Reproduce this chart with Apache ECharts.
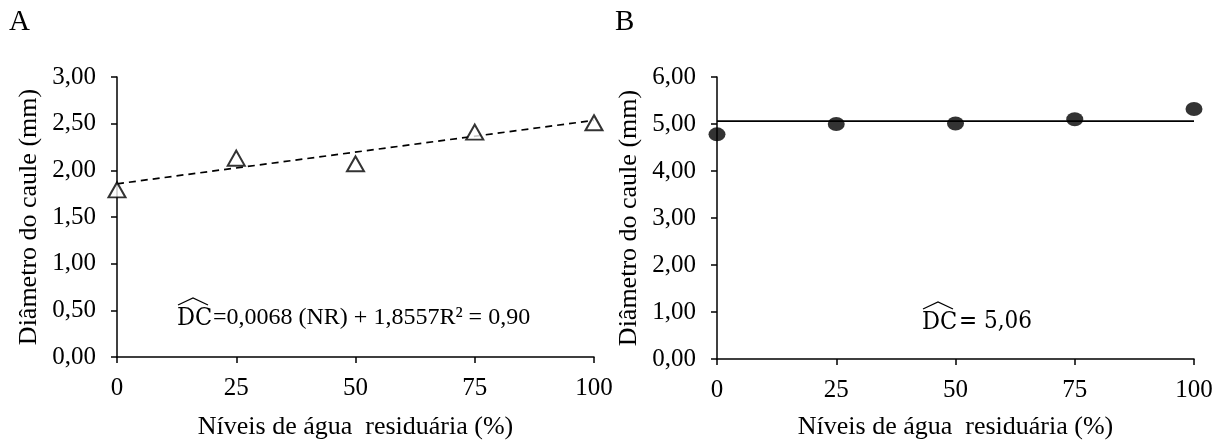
<!DOCTYPE html>
<html>
<head>
<meta charset="utf-8">
<script src="https://cdn.jsdelivr.net/npm/echarts@6/dist/echarts.min.js"></script>
<style>
html,body{margin:0;padding:0;background:#fff;}
#c{width:1225px;height:445px;}
</style>
</head>
<body>
<div id="c"></div>
<script>
// ---- data ----
const xLevels = [0, 25, 50, 75, 100];
const diamA = [1.79, 2.13, 2.07, 2.41, 2.51];
const diamB = [4.78, 5.00, 5.01, 5.10, 5.32];
const trendX = [0, 100];
const trendA = [1.8557, 2.5357];
const meanB = [5.06, 5.06];
const yTitle = 'Diâmetro do caule (mm)';
const xTitle = 'Níveis de água  residuária (%)';
const eqA = '=0,0068 (NR) + 1,8557R² = 0,90';
const eqB = '= 5,06';

const serif = 'Liberation Serif';
const pairs = (xs, ys) => xs.map((x, i) => [x, ys[i]]);
const fmt2 = v => v.toFixed(2).replace('.', ',');

function xAxisCfg(gi, gap) {
  return {
    type: 'value', gridIndex: gi, min: 0, max: 100, interval: 25,
    name: xTitle, nameLocation: 'middle', nameGap: gap,
    nameTextStyle: {fontFamily: serif, fontSize: 26, color: '#000'},
    axisLine: {show: true, onZero: false, lineStyle: {color: '#000', width: 1.5}},
    axisTick: {show: true, length: 6, lineStyle: {color: '#000', width: 1.5}},
    axisLabel: {fontFamily: serif, fontSize: 25, color: '#000', margin: 19},
    splitLine: {show: false}
  };
}
function yAxisCfg(gi, max, interval, gap) {
  return {
    type: 'value', gridIndex: gi, min: 0, max: max, interval: interval,
    name: yTitle, nameLocation: 'middle', nameGap: gap, nameRotate: 90,
    nameTextStyle: {fontFamily: serif, fontSize: 26, color: '#000'},
    axisLine: {show: true, lineStyle: {color: '#000', width: 1.5}},
    axisTick: {show: true, length: 6, lineStyle: {color: '#000', width: 1.5}},
    axisLabel: {fontFamily: serif, fontSize: 25, color: '#000', margin: 21, formatter: fmt2},
    splitLine: {show: false}
  };
}

const chart = echarts.init(document.getElementById('c'), null, {renderer: 'canvas'});
chart.setOption({
  backgroundColor: '#fff',
  animation: false,
  grid: [
    {left: 117, right: 631, top: 77, bottom: 82, containLabel: false},
    {left: 717, right: 31, top: 77, bottom: 82, containLabel: false}
  ],
  xAxis: [xAxisCfg(0, 57), xAxisCfg(1, 55)],
  yAxis: [yAxisCfg(0, 3, 0.5, 75), yAxisCfg(1, 6, 1, 75)],
  series: [
    {
      type: 'line', xAxisIndex: 0, yAxisIndex: 0, data: pairs(trendX, trendA),
      symbol: 'none', lineStyle: {color: '#000', width: 1.7, type: [7, 5]}, z: 2
    },
    {
      type: 'scatter', xAxisIndex: 0, yAxisIndex: 0, data: pairs(xLevels, diamA),
      symbol: 'triangle', symbolSize: [17, 15], clip: false,
      itemStyle: {color: '#fff', borderColor: '#000', borderWidth: 2}, z: 3
    },
    {
      type: 'line', xAxisIndex: 1, yAxisIndex: 1, data: pairs(trendX, meanB),
      symbol: 'none', lineStyle: {color: '#000', width: 1.7}, z: 2
    },
    {
      type: 'scatter', xAxisIndex: 1, yAxisIndex: 1, data: pairs(xLevels, diamB),
      symbol: 'circle', symbolSize: [17, 14], clip: false,
      itemStyle: {color: '#000'}, z: 3
    }
  ],
  graphic: [
    {type: 'text', left: 9, top: 8, style: {text: 'A', font: '29px "Liberation Serif"', fill: '#000'}},
    {type: 'text', left: 615, top: 8, style: {text: 'B', font: '29px "Liberation Serif"', fill: '#000'}},
    // equation A
    {type: 'text', x: 177, y: 318, style: {text: 'DC', font: '25px "DejaVu Serif Condensed", "DejaVu Serif"', fill: '#000', verticalAlign: 'middle'}},
    {type: 'polyline', shape: {points: [[178, 305], [193, 298], [208, 305]]}, style: {stroke: '#000', lineWidth: 1.3, fill: null}},
    {type: 'text', x: 213, y: 318, style: {text: eqA, font: '24px "Liberation Serif"', fill: '#000', verticalAlign: 'middle'}},
    // equation B
    {type: 'text', x: 922, y: 322, style: {text: 'DC', font: '25px "DejaVu Serif Condensed", "DejaVu Serif"', fill: '#000', verticalAlign: 'middle'}},
    {type: 'polyline', shape: {points: [[923, 309], [938, 302], [953, 309]]}, style: {stroke: '#000', lineWidth: 1.3, fill: null}},
    {type: 'text', x: 959, y: 322, style: {text: eqB, font: '24px "DejaVu Serif Condensed", "DejaVu Serif"', fill: '#000', verticalAlign: 'middle'}}
  ]
});
</script>
</body>
</html>
